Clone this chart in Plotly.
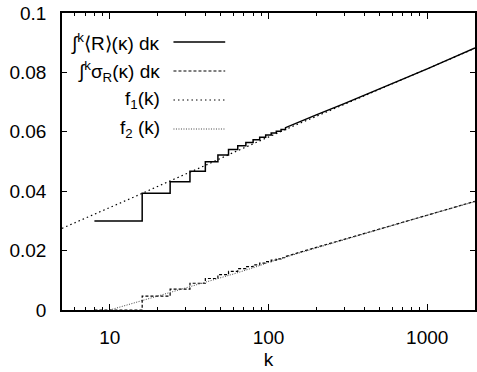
import math
import plotly.graph_objects as go

# Cumulative integrals: step positions and plateau levels
step_k = [8, 16, 24, 32, 40, 48, 56, 64, 72, 80, 88, 96, 104, 112, 120, 128]
mean_steps = [0.0300, 0.0393, 0.0432, 0.0467, 0.0499, 0.0522, 0.0540, 0.0553,
              0.0564, 0.0573, 0.0582, 0.0589, 0.0596, 0.0602, 0.0608, 0.0614]
sigma_steps = [0.0, 0.0047, 0.0070, 0.0090, 0.0106, 0.0119, 0.0130, 0.0139,
               0.0146, 0.0152, 0.0158, 0.0163, 0.0168, 0.0172, 0.0176, 0.0180]

# Large-k continuation of the integrals (steps too small to resolve)
tail_k = [160, 200, 300, 500, 700, 1000, 1500, 2000]
mean_tail = [0.0636, 0.0657, 0.0695, 0.0744, 0.0777, 0.0812, 0.0853, 0.0882]
sigma_tail = [0.0196, 0.0211, 0.0238, 0.0273, 0.0296, 0.0320, 0.0346, 0.0366]

# Fitted curves
f1_k = [5, 7, 10, 15, 20, 30, 40, 60, 80, 100, 150, 200, 300, 500, 700, 1000, 1500, 2000]
f1_v = [0.0275, 0.0309, 0.0343, 0.0386, 0.0416, 0.0457, 0.0487, 0.0530, 0.0560,
        0.0583, 0.0624, 0.0652, 0.0692, 0.0742, 0.0776, 0.0811, 0.0852, 0.0881]
f2_k = [10, 15, 20, 30, 40, 60, 80, 100, 150, 200, 300, 500, 700, 1000, 1500, 2000]
f2_v = [0.0, 0.0027, 0.0047, 0.0074, 0.0093, 0.0121, 0.0142, 0.0160, 0.0189,
        0.0209, 0.0237, 0.0272, 0.0295, 0.0319, 0.0346, 0.0365]

x_ticks = [10, 100, 1000]
x_minor = [6, 7, 8, 9, 20, 30, 40, 50, 60, 70, 80, 90,
           200, 300, 400, 500, 600, 700, 800, 900, 2000]
y_ticks = [0, 0.02, 0.04, 0.06, 0.08, 0.1]
y_labels = ["0", "0.02", "0.04", "0.06", "0.08", "0.1"]


def staircase(ks, vs, tk, tv):
    xs, ys = [], []
    for i, (k, v) in enumerate(zip(ks, vs)):
        if i > 0:
            xs.append(k)
            ys.append(vs[i - 1])
        xs.append(k)
        ys.append(v)
    return xs + tk, ys + tv


FONT = "Liberation Sans, Arial, Helvetica, sans-serif"

fig = go.Figure()

mx, my = staircase(step_k, sigma_steps, tail_k, sigma_tail)
fig.add_trace(go.Scatter(x=mx, y=my, mode="lines",
                         line=dict(color="black", width=1.2, dash="3px,2px")))
fig.add_trace(go.Scatter(x=f2_k, y=f2_v, mode="lines",
                         line=dict(color="#444", width=1, dash="1px,1.5px")))
fig.add_trace(go.Scatter(x=f1_k, y=f1_v, mode="lines",
                         line=dict(color="black", width=1.2, dash="1.5px,3px")))
ux, uy = staircase(step_k, mean_steps, tail_k, mean_tail)
fig.add_trace(go.Scatter(x=ux, y=uy, mode="lines",
                         line=dict(color="black", width=1.5)))

# Key: text right-aligned, line sample to its right
L, R, T, B = 62, 477, 13, 310
W, H = R - L, B - T


def px_x(p):
    return (p - L) / W


def px_y(p):
    return (B - p) / H


keys = [
    ("∫<sup>k</sup>⟨R⟩(κ) dκ", 42, dict(color="black", width=1.5, dash="solid")),
    ("∫<sup>k</sup>σ<sub>R</sub>(κ) dκ", 71, dict(color="black", width=1.2, dash="3px,2px")),
    ("f<sub>1</sub>(k)", 100, dict(color="black", width=1.2, dash="1.5px,3px")),
    ("f<sub>2</sub> (k)", 129, dict(color="#444", width=1, dash="1px,1.5px")),
]
for text, yp, ln in keys:
    fig.add_annotation(x=px_x(162), y=px_y(yp), xref="paper", yref="paper",
                       text=text, showarrow=False, xanchor="right", yanchor="middle",
                       font=dict(family=FONT, size=19, color="black"))
    fig.add_shape(type="line", xref="paper", yref="paper",
                  x0=px_x(174), x1=px_x(226), y0=px_y(yp), y1=px_y(yp), line=ln)

fig.update_layout(
    width=477, height=372,
    margin=dict(l=L, r=477 - R, t=T, b=372 - B),
    paper_bgcolor="white", plot_bgcolor="white",
    showlegend=False,
    font=dict(family=FONT, size=19, color="black"),
    xaxis=dict(
        type="log", range=[math.log10(5), math.log10(2000)],
        tickmode="array", tickvals=x_ticks, ticktext=[str(v) for v in x_ticks],
        ticks="inside", ticklen=6, tickwidth=1, tickcolor="black",
        showline=True, linecolor="black", linewidth=1.5, mirror="allticks",
        showgrid=False, zeroline=False,
        minor=dict(ticks="inside", ticklen=3, tickwidth=1, tickcolor="black",
                   tickmode="array", tickvals=x_minor, showgrid=False),
        title=dict(text="k", standoff=6, font=dict(size=19)),
        ticklabelstandoff=9,
    ),
    yaxis=dict(
        range=[0, 0.1], tickmode="array", tickvals=y_ticks, ticktext=y_labels,
        ticks="inside", ticklen=5, tickwidth=1, tickcolor="black",
        showline=True, linecolor="black", linewidth=1.5, mirror="allticks",
        showgrid=False, zeroline=False, ticklabelstandoff=10,
    ),
)

fig.write_html("out.html")
